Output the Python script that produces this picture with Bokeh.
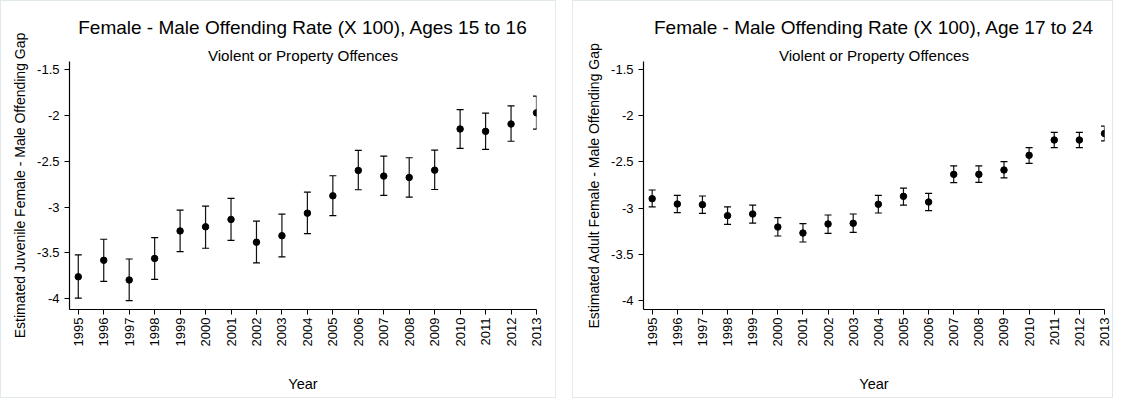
import math
from bokeh.plotting import figure
from bokeh.models import Title, Whisker, TeeHead, ColumnDataSource, FixedTicker, Range1d
from bokeh.layouts import row
from bokeh.embed import file_html
from bokeh.resources import INLINE

years = list(range(1995, 2014))

juv_est = [-3.76, -3.58, -3.795, -3.56, -3.26, -3.215, -3.135, -3.383, -3.312, -3.066, -2.877,
           -2.600, -2.662, -2.677, -2.597, -2.148, -2.174, -2.094, -1.972]
juv_lo = [-3.992, -3.810, -4.021, -3.788, -3.485, -3.449, -3.362, -3.609, -3.544, -3.289, -3.092,
          -2.811, -2.873, -2.892, -2.808, -2.360, -2.371, -2.282, -2.150]
juv_hi = [-3.522, -3.351, -3.566, -3.332, -3.034, -2.990, -2.906, -3.154, -3.077, -2.837, -2.658,
          -2.382, -2.444, -2.462, -2.378, -1.937, -1.974, -1.897, -1.790]

adult_est = [-2.897, -2.955, -2.962, -3.081, -3.063, -3.204, -3.269, -3.171, -3.164, -2.958, -2.872,
             -2.933, -2.634, -2.634, -2.587, -2.428, -2.262, -2.262, -2.192]
adult_lo = [-2.987, -3.049, -3.056, -3.175, -3.161, -3.301, -3.366, -3.273, -3.262, -3.052, -2.966,
            -3.027, -2.724, -2.720, -2.673, -2.514, -2.345, -2.345, -2.272]
adult_hi = [-2.803, -2.861, -2.868, -2.987, -2.966, -3.103, -3.168, -3.074, -3.063, -2.861, -2.782,
            -2.839, -2.543, -2.543, -2.496, -2.345, -2.179, -2.180, -2.112]

y_ticks = [-4, -3.5, -3, -2.5, -2, -1.5]
y_tick_labels = {-4: "-4", -3.5: "-3.5", -3: "-3", -2.5: "-2.5", -2: "-2", -1.5: "-1.5"}

titles = ["Female - Male Offending Rate (X 100), Ages 15 to 16",
          "Female - Male Offending Rate (X 100), Age 17 to 24"]
subtitle = "Violent or Property Offences"
y_labels = ["Estimated Juvenile Female - Male Offending Gap",
            "Estimated Adult Female - Male Offending Gap"]
x_label = "Year"

FONT = "Liberation Sans"


def make_panel(title, ylabel, est, lo, hi, width, mb_left, mb_right, y_bottom):
    src = ColumnDataSource(dict(x=years, y=est, lo=lo, hi=hi))
    p = figure(width=width, height=398, output_backend="svg", toolbar_location=None,
               x_range=Range1d(1994.655, 2013.0), y_range=Range1d(y_bottom, -1.412),
               min_border_left=mb_left, min_border_right=mb_right,
               min_border_top=60, min_border_bottom=90,
               background_fill_color="white", border_fill_color="white",
               styles={"border": "1px solid #e2e9ec"})
    p.outline_line_color = None
    p.grid.visible = False

    p.add_layout(Title(text=subtitle, align="center", text_font_size="15.2px",
                       text_font_style="normal", text_font=FONT, text_color="black",
                       standoff=-4.5), "above")
    p.add_layout(Title(text=title, align="center", text_font_size="19px",
                       text_font_style="normal", text_font=FONT, text_color="black",
                       standoff=18), "above")

    w = Whisker(source=src, base="x", lower="lo", upper="hi", line_color="#111111",
                line_width=1.2,
                lower_head=TeeHead(size=7, line_color="black", line_width=1.2),
                upper_head=TeeHead(size=7, line_color="black", line_width=1.2))
    p.add_layout(w)
    p.scatter("x", "y", source=src, size=6.5, color="black")

    xa = p.xaxis[0]
    xa.ticker = FixedTicker(ticks=years)
    xa.major_label_orientation = math.pi / 2
    xa.axis_label = x_label
    xa.axis_label_text_font = FONT
    xa.axis_label_text_font_size = "14.5px"
    xa.axis_label_text_font_style = "normal"
    xa.axis_label_standoff = 27
    xa.major_label_standoff = 3

    ya = p.yaxis[0]
    ya.ticker = FixedTicker(ticks=y_ticks)
    ya.major_label_overrides = y_tick_labels
    ya.axis_label = ylabel
    ya.axis_label_text_font = FONT
    ya.axis_label_text_font_size = "14px"
    ya.axis_label_text_font_style = "normal"
    ya.axis_label_standoff = 6
    ya.major_label_standoff = 5

    for ax in (xa, ya):
        ax.major_label_text_font = FONT
        ax.major_label_text_font_size = "13px"
        ax.major_label_text_color = "black"
        ax.axis_line_color = "black"
        ax.axis_line_width = 1.2
        ax.major_tick_line_color = "black"
        ax.major_tick_out = 5
        ax.major_tick_in = 0
        ax.minor_tick_line_color = None
        ax.axis_label_text_color = "black"
    return p


p1 = make_panel(titles[0], y_labels[0], juv_est, juv_lo, juv_hi, 556, 68, 21, -4.117)
p2 = make_panel(titles[1], y_labels[1], adult_est, adult_lo, adult_hi, 541, 70, 10, -4.097)

layout = row(p1, p2, spacing=16)
open("out.html", "w").write(file_html(layout, INLINE))
